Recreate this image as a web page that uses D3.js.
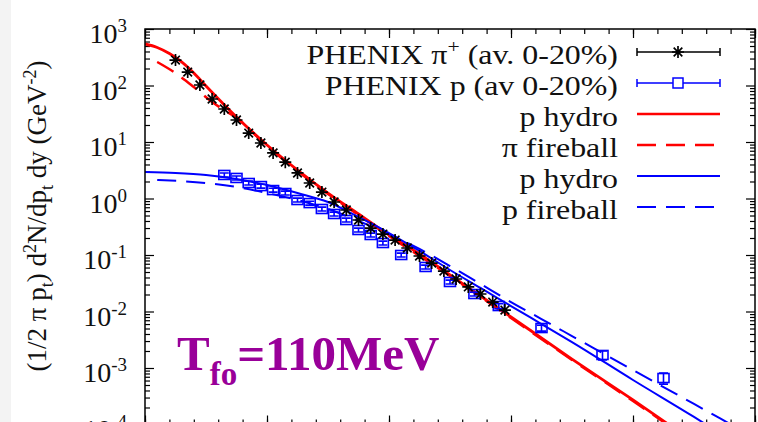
<!DOCTYPE html>
<html>
<head>
<meta charset="utf-8">
<script src="https://cdn.jsdelivr.net/npm/d3@7"></script>
<style>
  body { margin: 0; background: #fff; }
</style>
</head>
<body>
<svg id="chart" width="758" height="422"></svg>
<script>
// PHENIX pi+ (av. 0-20%)
var pionPt  = [0.25, 0.35, 0.45, 0.55, 0.65, 0.75, 0.85, 0.95, 1.05, 1.15, 1.25, 1.35, 1.45, 1.55,
               1.65, 1.75, 1.85, 1.95, 2.05, 2.15, 2.25, 2.35, 2.45, 2.55, 2.65, 2.75, 2.85, 2.95];
var pionVal = [282, 173, 102, 57.7, 38.4, 24.5, 14.4, 9.6, 6.4, 4.4, 2.83, 1.88, 1.30, 0.867,
               0.626, 0.416, 0.30, 0.235, 0.184, 0.133, 0.096, 0.072, 0.052, 0.0376, 0.0272, 0.0204, 0.0147, 0.0106];

// PHENIX p (av 0-20%)
var protPt  = [0.65, 0.75, 0.85, 0.95, 1.05, 1.15, 1.25, 1.35, 1.45, 1.55, 1.65, 1.75, 1.85, 1.95,
               2.1, 2.3, 2.5, 2.7, 2.9, 3.25, 3.75, 4.25];
var protVal = [2.61, 2.31, 1.88, 1.66, 1.41, 1.25, 0.94, 0.83, 0.652, 0.532, 0.416, 0.277, 0.226, 0.163,
               0.100, 0.0614, 0.0333, 0.0204, 0.0125, 0.0051, 0.0017, 0.000665];
var protErr = [0.08, 0.08, 0.08, 0.08, 0.08, 0.08, 0.08, 0.08, 0.08, 0.08, 0.08, 0.08, 0.08, 0.08,
               0.08, 0.08, 0.08, 0.08, 0.1, 0.12, 0.18, 0.22];

// model curves
var piHydroPt  = [0, 0.1, 0.2, 0.3, 0.4, 0.5, 0.75, 1.0, 1.25, 1.5, 1.75, 2.0, 2.25, 2.5, 2.75, 3.0, 3.5, 4.0, 4.5];
var piHydroVal = [543, 471, 368, 261, 166, 98, 27.7, 8.85, 3.19, 1.25, 0.532, 0.226, 0.104, 0.0443, 0.0188, 0.0080, 0.00144, 0.000272, 0.000049];

var piFirePt  = [0.1, 0.25, 0.4, 0.55, 0.7, 0.75, 1.0, 1.25, 1.5, 1.75, 2.0, 2.5, 3.0, 3.5, 4.0, 4.5];
var piFireVal = [261, 166, 94, 51, 31.3, 26.6, 8.5, 3.07, 1.20, 0.511, 0.217, 0.0425, 0.00768, 0.00139, 0.00026, 0.000047];

var pHydroPt  = [0, 0.25, 0.5, 0.75, 1.0, 1.25, 1.5, 1.75, 2.0, 2.25, 2.5, 2.75, 3.0, 3.25, 3.5, 4.0, 4.5, 4.75];
var pHydroVal = [2.94, 2.83, 2.61, 2.21, 1.73, 1.25, 0.867, 0.471, 0.245, 0.118, 0.0543, 0.0261, 0.0125, 0.0060, 0.00288, 0.000613, 0.000136, 0.0000625];

var pFirePt  = [0.1, 0.5, 0.75, 1.0, 1.25, 1.5, 1.75, 2.0, 2.25, 2.5, 2.75, 3.0, 3.25, 3.5, 4.0, 4.5, 5.0];
var pFireVal = [2.12, 1.88, 1.60, 1.25, 0.94, 0.652, 0.400, 0.235, 0.128, 0.0638, 0.0307, 0.0147, 0.00736, 0.00368, 0.00092, 0.000231, 0.000058];

var yTickExp = [3, 2, 1, 0, -1, -2, -3, -4];
var legendLabels = ["PHENIX π", "PHENIX p (av 0-20%)", "p hydro", "π fireball", "p hydro", "p fireball"];

var FONT = "Liberation Serif";
var svg = d3.select("#chart");
var x = d3.scaleLinear().domain([0, 5]).range([145, 755]);
var y = d3.scaleLog().domain([1e-4, 1e3]).range([424.5, 29]);

svg.append("rect").attr("width", 758).attr("height", 422).attr("fill", "#fff");
svg.append("rect").attr("width", 11).attr("height", 422).attr("fill", "#f3f3f3");

svg.append("clipPath").attr("id", "plotclip")
  .append("rect").attr("x", 145).attr("y", 29).attr("width", 610).attr("height", 395.5);

// axes ticks (inward on all four sides)
var majY = yTickExp.map(function(e) { return Math.pow(10, e); });
var minY = y.ticks().filter(function(v) {
  var l = Math.log10(v);
  return Math.abs(l - Math.round(l)) > 1e-6;
});
var majX = [0, 1, 2, 3, 4, 5];
var minX = d3.range(0, 5.001, 0.2);

function tickGroup(axis) {
  var g = svg.append("g").call(axis);
  g.select(".domain").remove();
  g.selectAll("line").attr("stroke", "#000").attr("stroke-width", 1.2);
  return g;
}
tickGroup(d3.axisLeft(y).tickValues(majY).tickSize(-9).tickFormat("")).attr("transform", "translate(145,0)");
tickGroup(d3.axisLeft(y).tickValues(minY).tickSize(-5).tickFormat("")).attr("transform", "translate(145,0)");
tickGroup(d3.axisRight(y).tickValues(majY).tickSize(-9).tickFormat("")).attr("transform", "translate(755,0)");
tickGroup(d3.axisRight(y).tickValues(minY).tickSize(-5).tickFormat("")).attr("transform", "translate(755,0)");
tickGroup(d3.axisBottom(x).tickValues(majX).tickSize(-9).tickFormat("")).attr("transform", "translate(0,424.5)");
tickGroup(d3.axisBottom(x).tickValues(minX).tickSize(-5).tickFormat("")).attr("transform", "translate(0,424.5)");
tickGroup(d3.axisTop(x).tickValues(majX).tickSize(-9).tickFormat("")).attr("transform", "translate(0,29)");
tickGroup(d3.axisTop(x).tickValues(minX).tickSize(-5).tickFormat("")).attr("transform", "translate(0,29)");

// y tick labels 10^n
var ylab = svg.append("g").selectAll("text")
  .data(yTickExp).enter().append("text")
    .attr("x", 127)
    .attr("y", function(d) { return y(Math.pow(10, d)) + 14; })
    .attr("text-anchor", "end")
    .attr("font-family", FONT)
    .attr("font-size", 28)
    .attr("fill", "#111");
ylab.append("tspan").text("10");
ylab.append("tspan").attr("dy", -11).attr("font-size", 19).text(function(d) { return d; });

// y axis title
var yt = svg.append("text")
  .attr("transform", "translate(46,216) rotate(-90)")
  .attr("text-anchor", "middle")
  .attr("font-family", FONT)
  .attr("font-size", 27)
  .attr("fill", "#111");
[["(1/2 π p", 0, 27], ["t", 7, 18], [") d", -7, 27], ["2", -10, 18], ["N/dp", 10, 27],
 ["t", 7, 18], [" dy (GeV", -7, 27], ["-2", -10, 18], [")", 10, 27]].forEach(function(s) {
  yt.append("tspan").attr("dy", s[1]).attr("font-size", s[2]).text(s[0]);
});

// curves
var line = d3.line()
  .x(function(d) { return x(d[0]); })
  .y(function(d) { return y(d[1]); })
  .curve(d3.curveMonotoneX);

var plot = svg.append("g").attr("clip-path", "url(#plotclip)");
var curves = [
  { pt: piHydroPt, val: piHydroVal, color: "#ff0000", dash: null, w: 2.8 },
  { pt: piFirePt,  val: piFireVal,  color: "#ff0000", dash: "19,10", w: 2.5 },
  { pt: pHydroPt,  val: pHydroVal,  color: "#0000ff", dash: null, w: 2 },
  { pt: pFirePt,   val: pFireVal,   color: "#0000ff", dash: "19,10", w: 2 }
];
curves.forEach(function(c) {
  plot.append("path")
    .attr("d", line(d3.zip(c.pt, c.val)))
    .attr("fill", "none")
    .attr("stroke", c.color)
    .attr("stroke-width", c.w)
    .attr("stroke-dasharray", c.dash);
});

// proton points
var starPath = "M-6,0H6M0,-6V6M-4.3,-4.3L4.3,4.3M-4.3,4.3L4.3,-4.3";
var prot = plot.append("g").selectAll("g")
  .data(d3.zip(protPt, protVal, protErr)).enter().append("g")
    .attr("stroke", "#0000ff").attr("stroke-width", 1.6).attr("fill", "none");
prot.append("path").attr("d", function(d) {
  var cx = x(d[0]), y0 = y(d[1] * (1 - d[2])), y1 = y(d[1] * (1 + d[2]));
  return "M" + cx + "," + y0 + "V" + y1 + "M" + (cx - 4.5) + "," + y0 + "H" + (cx + 4.5) +
         "M" + (cx - 4.5) + "," + y1 + "H" + (cx + 4.5);
});
prot.append("rect")
  .attr("x", function(d) { return x(d[0]) - 5.5; })
  .attr("y", function(d) { return y(d[1]) - 4.5; })
  .attr("width", 11).attr("height", 9);

// pion points
plot.append("g").selectAll("path")
  .data(d3.zip(pionPt, pionVal)).enter().append("path")
    .attr("transform", function(d) { return "translate(" + x(d[0]) + "," + y(d[1]) + ")"; })
    .attr("d", starPath)
    .attr("stroke", "#000").attr("stroke-width", 1.7);

// frame
svg.append("rect").attr("x", 145).attr("y", 29).attr("width", 610).attr("height", 395.5)
  .attr("fill", "none").attr("stroke", "#000").attr("stroke-width", 1.5);

// legend
var legColors = ["#000", "#0000ff", "#ff0000", "#ff0000", "#0000ff", "#0000ff"];
var legDash = [null, null, null, "19,10", null, "19,10"];
var leg = svg.append("g");
legendLabels.forEach(function(lab, i) {
  var ly = 52 + i * 31;
  var t = leg.append("text")
    .attr("transform", "translate(618," + (ly + 12) + ") scale(1.14,1)")
    .attr("text-anchor", "end")
    .attr("font-family", FONT)
    .attr("font-size", 28)
    .attr("fill", "#111");
  t.append("tspan").text(lab);
  if (i === 0) {
    t.append("tspan").attr("dy", -11).attr("font-size", 19).text("+");
    t.append("tspan").attr("dy", 11).text(" (av. 0-20%)");
  }
  var g = leg.append("g").attr("stroke", legColors[i]).attr("fill", "none");
  if (i < 2) {
    g.attr("stroke-width", 1.5);
    g.append("path").attr("d", "M637," + ly + "H720M637," + (ly - 4) + "V" + (ly + 4) + "M720," + (ly - 4) + "V" + (ly + 4));
    if (i === 0) g.append("path").attr("transform", "translate(678," + ly + ")").attr("d", starPath).attr("stroke-width", 1.7);
    else g.append("rect").attr("x", 673).attr("y", ly - 5).attr("width", 10).attr("height", 10).attr("fill", "#fff");
  } else {
    g.append("line").attr("x1", 637).attr("x2", 720).attr("y1", ly).attr("y2", ly)
      .attr("stroke-width", legColors[i] === "#ff0000" ? 2.5 : 2)
      .attr("stroke-dasharray", legDash[i]);
  }
});

// annotation
var ann = svg.append("text")
  .attr("x", 177).attr("y", 370)
  .attr("font-family", FONT)
  .attr("font-size", 49).attr("font-weight", "bold").attr("fill", "#990099");
ann.append("tspan").text("T");
ann.append("tspan").attr("dy", 15).attr("font-size", 33).text("fo");
ann.append("tspan").attr("dy", -15).text("=110MeV");
</script>
</body>
</html>
